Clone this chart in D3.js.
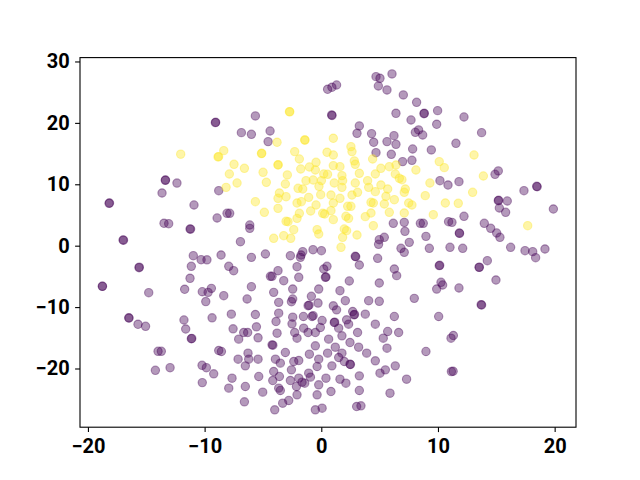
<!DOCTYPE html>
<html>
<head>
<meta charset="utf-8">
<script src="https://cdn.jsdelivr.net/npm/d3@7"></script>
<style>
  body { margin: 0; background: #fff; }
</style>
</head>
<body>
<script>
// tick values
const xTicks = [-20, -10, 0, 10, 20];
const yTicks = [-20, -10, 0, 10, 20, 30];

// class 0 points (purple)
const purplePts = [
  [-13.37,10.65],[-13.35,10.7],[-12.37,10.2],[-13.65,8.58],[-18.19,6.9],[-18.15,6.95],[-10.91,6.63],
  [-13.48,3.65],[-13.08,3.58],[-11.25,2.72],[-11.2,2.7],[-16.99,0.93],[-16.95,0.9],[-10.97,-1.63],
  [-10.3,-2.28],[-9.8,-2.3],[-11.14,-3.36],[-15.62,-3.58],[-15.6,-3.5],[-11.25,-5.31],
  [-18.77,-6.62],[-18.75,-6.6],[-14.79,-7.65],[-11.71,-7.1],[-10.2,-7.5],[-9.7,-7.6],[-9.42,-6.95],
  [-9.9,-9.1],
  [-16.48,-11.78],[-16.5,-11.75],[-15.71,-12.8],[-15.06,-13.13],[-11.77,-12.1],[-11.62,-13.57],
  [-11.14,-15.15],[-11.1,-15.1],[-13.99,-17.2],[-13.71,-17.2],[-14.22,-20.3],[-12.96,-19.87],
  [-10.22,-19.48],[-9.85,-19.87],[-10.2,-22.3],
  [-8.79,8.96],[-8.93,4.51],[-8.08,5.27],[-7.85,5.27],[-6.13,3.37],[-6.13,2.82],[-6.93,0.65],
  [-4.79,-1.35],[-5.99,-1.9],[-8.59,-1.52],[-2.65,-1.63],[-1.73,-1.52],[-1.59,-0.97],[-1.79,-1.9],
  [-0.71,-0.65],[0.01,-0.81],[-7.93,-3.36],[-7.51,-4.07],[-3.71,-4.07],[-2.08,-3.42],[0.21,-3.8],
  [0.49,-3.36],[-4.36,-4.99],[-4.22,-4.99],[-3.22,-5.7],[-1.93,-5.15],[0.35,-5.15],[0.4,-5.1],
  [-5.99,-6.68],[-4.08,-7.6],[-2.45,-7.06],[-0.22,-7.06],[-8.36,-8.14],[-6.36,-8.68],[-3.65,-9.23],
  [-2.45,-8.68],[-2.56,-9.12],[-0.85,-8.25],[-0.28,-9.34],[-1.13,-9.77],[-1.05,-9.7],
  [-9.36,-11.75],[-7.71,-11.15],[-5.65,-11.21],[-3.65,-10.99],[-2.45,-11.64],[-2.51,-12.73],
  [-1.53,-11.53],[-0.79,-11.53],[-0.7,-11.4],[0.07,-12.18],[-7.56,-13.54],[-6.65,-14.14],
  [-6.31,-14.14],[-5.56,-13.21],[-7.08,-15.22],[-5.42,-15.0],[-3.88,-12.35],[-3.79,-14.25],
  [-2.28,-14.14],[-2.08,-15.06],[-1.51,-13.43],[-1.13,-14.14],[-0.51,-14.14],[-0.08,-13.32],
  [-4.22,-16.15],[-4.15,-16.2],[-3.08,-17.39],[-8.79,-17.07],[-8.56,-17.23],[-7.13,-18.48],
  [-6.28,-17.5],[-6.22,-18.48],[-6.51,-19.57],[-5.42,-18.48],[-3.93,-18.48],[-3.51,-19.13],
  [-2.36,-18.86],[-1.93,-18.7],[-1.02,-17.67],[-0.22,-18.48],[-0.36,-19.67],[-0.51,-16.31],
  [-9.22,-20.87],[-7.65,-21.58],[-7.93,-23.2],[-6.51,-22.93],[-5.36,-21.3],[-5.02,-23.85],
  [-4.08,-20.49],[-4.16,-21.96],[-3.59,-21.3],[-2.56,-20.22],[-2.65,-21.96],[-1.93,-21.58],
  [-1.65,-22.23],[-1.42,-22.39],[-1.08,-20.76],[-0.93,-21.41],[-0.22,-22.66],[-0.36,-24.29],
  [-3.65,-23.2],[-3.51,-23.58],[-2.13,-22.93],[-2.08,-24.29],[-2.79,-25.21],[-3.31,-25.65],
  [-3.99,-26.73],[-0.51,-26.73],[0.07,-26.46],[-6.59,-25.43],
  [10.17,10.59],[10.86,9.88],[6.17,3.64],[7.11,3.8],[7.17,2.34],[8.49,3.64],[8.74,3.64],
  [10.91,3.91],[11.2,3.8],[5.4,1.36],[4.97,0.98],[4.91,0.22],[7.54,0.54],[8.97,1.52],
  [6.83,-0.43],[7.11,-1.08],[9.26,-0.43],[11.03,-0.27],[2.91,-1.73],[2.95,-1.8],[3.26,-3.15],
  [4.83,-2.06],[6.26,-3.8],[6.46,-4.88],[10.11,-3.25],[10.15,-3.2],[2.4,-5.75],[4.97,-6.08],
  [10.26,-5.97],[10.4,-6.4],[9.89,-7.06],[1.6,-7.33],[2.06,-8.96],[4.06,-8.96],[4.97,-9.06],
  [7.97,-8.58],
  [0.54,25.47],[0.91,25.8],[1.31,26.17],[4.69,27.53],[5.03,27.26],[6.06,27.97],[4.89,26.01],
  [5.63,25.36],[7.03,24.55],[8.17,23.35],[9.97,21.99],[0.89,21.29],[0.92,21.2],[6.4,21.56],
  [8.83,21.56],[8.8,21.5],[3.26,19.5],[3.06,18.3],[4.31,18.25],[7.69,20.47],[9.89,19.77],
  [8.34,18.85],[8.06,18.46],[8.69,18.03],[6.23,17.92],[4.49,16.84],[5.63,16.95],[6.4,16.51],
  [7.83,15.75],[4.69,15.15],[6.0,14.88],[9.43,15.59],[6.97,13.69],[7.77,13.9],
  [-9.08,20.04],[-9.05,20.1],[-5.65,21.13],[-6.85,18.41],[-5.99,18.14],[-4.39,18.68],[-4.56,16.95],
  [12.23,20.96],[13.74,18.41],[11.54,16.67],[14.89,11.62],[15.17,12.17],[11.8,10.43],
  [18.46,9.67],[18.5,9.6],[17.37,8.96],[15.17,7.33],[15.2,7.4],[15.94,7.28],[15.26,6.14],
  [15.8,5.43],[19.89,5.97],[12.23,4.78],[13.97,3.64],[14.52,2.83],[15.03,2.07],[15.31,1.36],
  [11.83,2.07],[11.85,2.0],[12.12,-0.43],[16.23,-0.27],[17.46,-0.81],[18.12,-0.97],[18.37,-1.95],
  [19.17,-0.54],[14.23,-2.44],[13.52,-3.53],[13.55,-3.5],[14.97,-5.59],[11.8,-6.89],
  [13.74,-9.66],[13.7,-9.6],[11.32,-14.63],[11.12,-15.06],
  [1.03,-9.79],[1.31,-10.45],[2.69,-10.72],[2.8,-11.26],[2.85,-11.2],[3.77,-11.15],[6.26,-11.53],
  [10.06,-11.53],[4.63,-12.78],[5.69,-13.97],[6.63,-14.14],[5.31,-15.06],[5.63,-16.69],
  [3.11,-14.14],[2.34,-12.78],[2.17,-12.07],[1.11,-12.51],[1.15,-12.45],[1.49,-13.43],
  [1.77,-14.68],[0.63,-15.22],[1.2,-16.53],[0.54,-17.5],[1.77,-17.5],[2.46,-15.77],[3.2,-16.53],
  [3.89,-17.5],[1.49,-18.21],[1.97,-18.86],[2.46,-19.3],[2.5,-19.35],[0.91,-19.57],[4.63,-18.75],
  [5.49,-20.22],[5.03,-20.76],[6.34,-19.57],[0.4,-21.58],[1.6,-21.74],[2.11,-22.39],[3.26,-21.2],
  [7.31,-21.74],[8.97,-17.23],[11.15,-20.5],[11.3,-20.45],[0.83,-23.75],[3.26,-23.58],
  [5.89,-24.02],[3.03,-26.19],[3.4,-26.08]
];

// class 1 points (yellow)
const yellowPts = [
  [-12.05,14.9],
  [-2.73,21.83],[-2.7,21.8],[-3.79,16.84],[-1.42,17.22],[-1.4,17.2],[-8.36,15.48],[-8.85,14.45],
  [-8.8,14.5],[-5.13,15.0],[-5.1,15.05],[-2.28,15.32],[-1.88,14.12],[0.49,15.21],[-0.45,13.58],
  [-7.48,13.25],[-3.71,13.14],[-3.7,13.2],[-6.59,12.6],[-1.02,12.82],[-1.76,12.49],[-0.51,12.33],
  [0.21,11.68],[-7.88,11.68],[-4.99,11.95],[-2.91,11.52],
  [-8.16,9.5],[-7.22,10.21],[-4.71,10.32],[-3.08,10.05],[-1.99,9.34],[-1.59,9.23],[-1.31,10.59],
  [-0.7,10.7],[0.01,10.6],[-0.2,9.67],[-3.59,8.58],[-3.71,7.71],[-3.02,7.98],[-2.08,6.95],
  [-1.71,7.17],[-1.08,7.87],[-0.05,8.31],[-0.45,6.63],[-5.65,7.17],[-3.71,6.08],[-4.88,5.43],
  [-1.88,5.27],[-0.91,5.65],[0.12,5.27],[0.29,5.16],[-3.02,3.97],[-2.85,3.91],[-2.08,4.45],
  [-2.36,2.61],[-0.36,2.61],[-0.22,1.9],[-4.08,1.2],[-3.22,1.63],[-2.62,1.2],
  [1.11,10.21],[1.83,10.59],[1.77,9.5],[2.91,10.21],[3.97,10.59],[4.06,9.5],[5.11,9.88],
  [6.91,10.75],[7.2,9.23],[7.11,8.69],[9.31,10.21],[0.83,8.25],[1.6,7.71],[2.63,8.25],
  [3.11,8.69],[4.63,8.8],[5.69,9.23],[5.54,8.04],[6.26,7.49],[8.91,8.15],[1.03,6.95],
  [2.26,6.41],[2.54,6.41],[4.26,7.06],[4.46,6.95],[5.4,6.79],[7.49,6.95],[7.77,6.63],
  [10.63,6.95],[0.83,5.7],[2.11,4.78],[2.34,4.45],[3.77,4.73],[4.26,5.32],[5.83,5.43],
  [7.11,5.32],[9.6,5.05],[1.03,4.24],[4.46,3.26],[3.06,1.74],[1.97,2.72],[2.17,2.45],
  [1.83,1.36],[1.69,-0.27],
  [1.03,17.49],[1.03,14.77],[2.54,16.13],[2.63,15.32],[2.83,13.8],[2.91,13.25],[4.4,14.12],
  [1.03,13.04],[1.6,12.87],[0.54,11.62],[1.77,11.41],[3.26,11.79],[4.63,11.68],[5.11,12.6],
  [5.83,12.87],[6.4,13.14],[6.34,11.68],[6.69,10.97],[8.11,12.33],[10.11,13.69],[10.54,12.71],
  [13.09,14.77],[13.89,11.35],[12.97,8.69],[11.74,6.9],[17.69,3.26]
];

let svg = d3.select("body").append("svg")
  .attr("width", 640)
  .attr("height", 480)
  .style("background-color", "#fff");

// axes box
const boxL = 80, boxR = 576, boxT = 57.6, boxB = 427.2;

let x = d3.scaleLinear().domain([-20.68, 21.83]).range([boxL, boxR]);
let y = d3.scaleLinear().domain([-29.56, 30.63]).range([boxB, boxT]);

const drawPts = (pts, col) => {
  svg.append("g").selectAll("circle")
    .data(pts)
    .enter()
      .append("circle")
        .attr("cx", d => x(d[0]))
        .attr("cy", d => y(d[1]))
        .attr("r", 4.17)
        .attr("fill", col)
        .attr("fill-opacity", 0.4)
        .attr("stroke", col)
        .attr("stroke-opacity", 0.4)
        .attr("stroke-width", 1.1);
};
drawPts(purplePts, "#440154");
drawPts(yellowPts, "#fde725");

svg.append("rect")
  .attr("x", boxL).attr("y", boxT)
  .attr("width", boxR - boxL).attr("height", boxB - boxT)
  .attr("fill", "none")
  .attr("stroke", "black")
  .attr("stroke-width", 1.1);

const xAxis = svg.append("g")
  .attr("transform", `translate(0,${boxB})`)
  .call(d3.axisBottom(x).tickValues(xTicks).tickSize(4.9).tickPadding(6.5).tickSizeOuter(0));

const yAxis = svg.append("g")
  .attr("transform", `translate(${boxL},0)`)
  .call(d3.axisLeft(y).tickValues(yTicks).tickSize(4.9).tickPadding(5.5).tickSizeOuter(0));

[xAxis, yAxis].forEach(g => {
  g.select(".domain").remove();
  g.selectAll("line").attr("stroke", "black").attr("stroke-width", 1.1);
  g.selectAll("text")
    .attr("fill", "black")
    .attr("font-family", "Roboto, 'DejaVu Sans', sans-serif")
    .attr("font-weight", "bold")
    .attr("font-size", "20px");
});
</script>
</body>
</html>
